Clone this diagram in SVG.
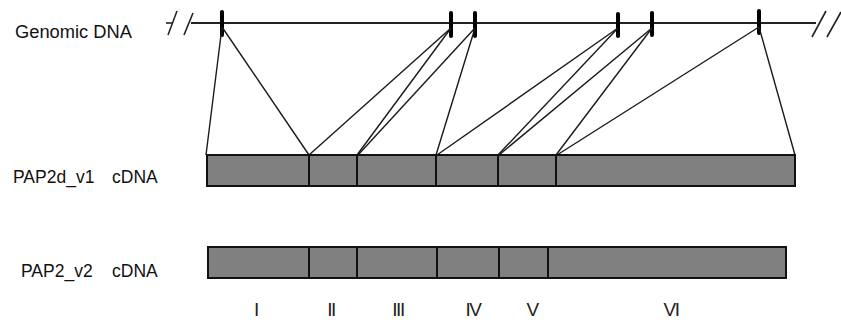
<svg xmlns="http://www.w3.org/2000/svg" width="841" height="320" viewBox="0 0 841 320">
<style>
.lbl{font-family:"Liberation Sans",Arial,sans-serif;font-size:17.5px;fill:#111}
.num{font-family:"Liberation Sans",Arial,sans-serif;font-size:19px;fill:#222;text-anchor:middle;letter-spacing:-1.5px}
.ex{fill:#808080;stroke:#111;stroke-width:2}
.dv{stroke:#111;stroke-width:2}
.cn{stroke:#1a1a1a;stroke-width:1.4;fill:none}
.tk{stroke:#000;stroke-width:4;stroke-linecap:round}
</style>
<rect width="841" height="320" fill="#fff"/>
<g id="genomic">
<text class="lbl" x="15" y="38" style="font-size:18.3px">Genomic DNA</text>
<line x1="191" y1="23" x2="816" y2="23" stroke="#222" stroke-width="2"/>
<g stroke="#222" stroke-width="1.6">
<line x1="166" y1="23" x2="172" y2="23"/>
<line x1="168" y1="35" x2="177" y2="11"/>
<line x1="184" y1="35" x2="193" y2="13"/>
<line x1="812" y1="37" x2="826" y2="11"/>
<line x1="827" y1="37" x2="841" y2="12"/>
</g>
<line class="tk" x1="222" y1="12" x2="222" y2="35"/>
<line class="tk" x1="451" y1="13" x2="451" y2="36"/>
<line class="tk" x1="475" y1="13" x2="475" y2="36"/>
<line class="tk" x1="618" y1="14" x2="618" y2="36"/>
<line class="tk" x1="652" y1="13" x2="652" y2="35"/>
<line class="tk" x1="759" y1="11" x2="759" y2="33"/>
</g>
<g id="connectors">
<line class="cn" x1="222" y1="27" x2="206" y2="155"/>
<line class="cn" x1="222" y1="27" x2="309" y2="155"/>
<line class="cn" x1="451" y1="28" x2="309" y2="155"/>
<line class="cn" x1="451" y1="28" x2="357" y2="155"/>
<line class="cn" x1="475" y1="28" x2="358" y2="155"/>
<line class="cn" x1="475" y1="28" x2="436" y2="155"/>
<line class="cn" x1="618" y1="28" x2="437" y2="155"/>
<line class="cn" x1="618" y1="28" x2="498" y2="155"/>
<line class="cn" x1="652" y1="28" x2="499" y2="155"/>
<line class="cn" x1="652" y1="28" x2="556" y2="155"/>
<line class="cn" x1="759" y1="27" x2="557" y2="155"/>
<line class="cn" x1="759" y1="27" x2="795" y2="155"/>
</g>
<g id="pap2d_v1">
<text class="lbl" x="13" y="183">PAP2d_v1</text>
<text class="lbl" x="112" y="183">cDNA</text>
<rect class="ex" x="207" y="155" width="588" height="31"/>
<line class="dv" x1="309" y1="155" x2="309" y2="186"/>
<line class="dv" x1="357" y1="155" x2="357" y2="186"/>
<line class="dv" x1="436" y1="155" x2="436" y2="186"/>
<line class="dv" x1="498" y1="155" x2="498" y2="186"/>
<line class="dv" x1="556" y1="155" x2="556" y2="186"/>
</g>
<g id="pap2_v2">
<text class="lbl" x="21" y="277">PAP2_v2</text>
<text class="lbl" x="112" y="277">cDNA</text>
<rect class="ex" x="208" y="247" width="578" height="31"/>
<line class="dv" x1="309" y1="247" x2="309" y2="278"/>
<line class="dv" x1="357" y1="247" x2="357" y2="278"/>
<line class="dv" x1="437" y1="247" x2="437" y2="278"/>
<line class="dv" x1="499" y1="247" x2="499" y2="278"/>
<line class="dv" x1="548" y1="247" x2="548" y2="278"/>
</g>
<g id="exon-numbers">
<text class="num" x="256" y="316">I</text>
<text class="num" x="331" y="316">II</text>
<text class="num" x="398" y="316">III</text>
<text class="num" x="473" y="316">IV</text>
<text class="num" x="532" y="316">V</text>
<text class="num" x="671" y="316">VI</text>
</g>
</svg>
